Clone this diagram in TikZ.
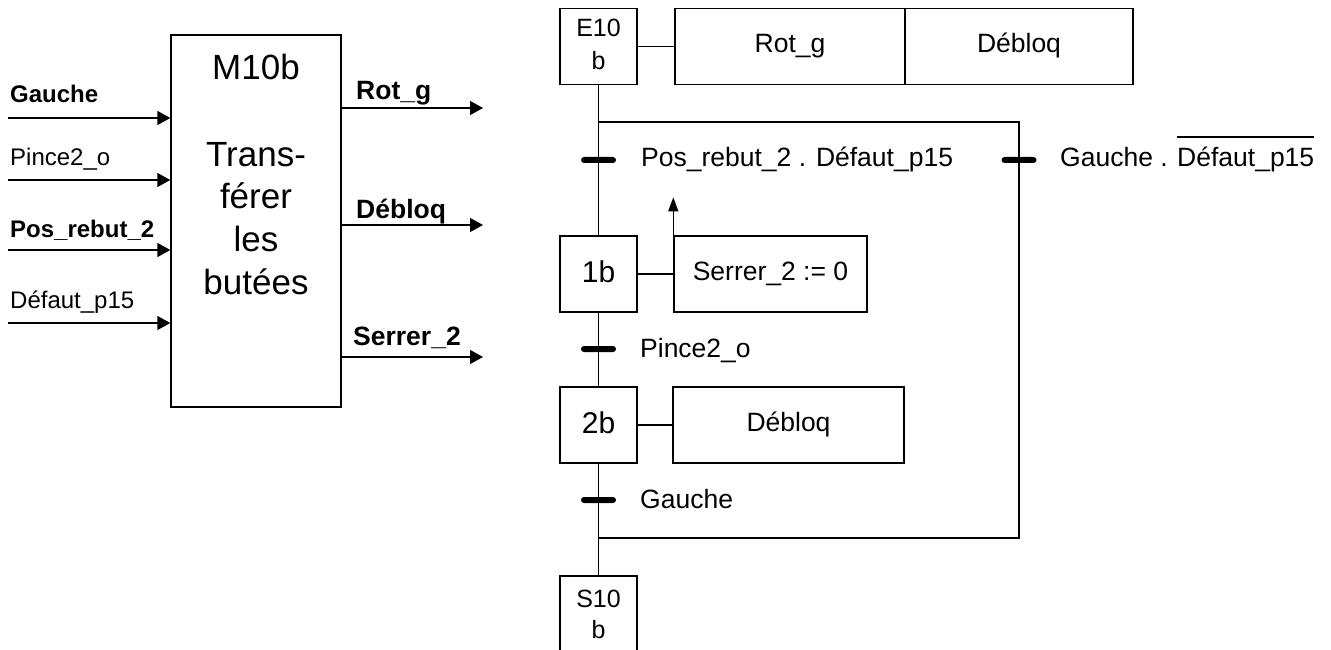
\documentclass[tikz,border=0pt]{standalone}
\usepackage{fontspec}
\setmainfont{Liberation Sans}
\usetikzlibrary{arrows.meta,calc}
\begin{document}
\begin{tikzpicture}[x=1pt,y=-1pt,
  ln/.style={line width=1.4pt},
  arr/.style={ln,-{Triangle[length=13pt,width=14pt]}},
  lbl/.style={anchor=base west,inner sep=0,font=\fontsize{24}{28}\selectfont},
  blbl/.style={anchor=base west,inner sep=0,font=\fontsize{24}{28}\selectfont\bfseries},
  olbl/.style={anchor=base west,inner sep=0,font=\fontsize{26.5}{30}\selectfont\bfseries},
  mtxt/.style={anchor=base,inner sep=0,font=\fontsize{35}{40}\selectfont},
  gl/.style={anchor=base west,inner sep=0,font=\fontsize{26.5}{30}\selectfont},
  stxt/.style={anchor=base,inner sep=0,font=\fontsize{25}{30}\selectfont},
  stepbox/.style={draw,ln,minimum width=77pt,minimum height=76pt,inner sep=0,text height=22pt,text depth=6pt,font=\fontsize{30}{34}\selectfont},
  actbox/.style={draw,ln,minimum height=76pt,inner sep=0,text height=19.5pt,text depth=6.5pt,font=\fontsize{26.5}{30}\selectfont},
  trans/.style={fill=black,minimum width=35pt,minimum height=6pt,inner sep=0,rounded corners=3pt}
]
\useasboundingbox (0,0) rectangle (1331,650);
\clip (0,0) rectangle (1331,650);

% ---- M10b block ----
\node[draw,ln,minimum width=170pt,minimum height=372pt,inner sep=0] (M) at (256,221) {};
\node[mtxt] (Mt) at (256,80) {M10b};
\node[mtxt] (M1) at (256,167) {Trans-};
\node[mtxt] (M2) at (256,208) {férer};
\node[mtxt] (M3) at (256,251) {les};
\node[mtxt] (M4) at (256,294) {butées};

% inputs
\coordinate (ia) at (8,118);
\coordinate (ib) at (8,180);
\coordinate (ic) at (8,250);
\coordinate (id) at (8,323);
\draw[arr] (ia) -- (ia -| M.west);
\draw[arr] (ib) -- (ib -| M.west);
\draw[arr] (ic) -- (ic -| M.west);
\draw[arr] (id) -- (id -| M.west);
\node[blbl] (lG) at (10,103) {Gauche};
\node[lbl] (lP) at (10,165) {Pince2\_o};
\node[blbl] (lR) at (10,237) {Pos\_rebut\_2};
\node[lbl] (lD) at (10,308) {Défaut\_p15};

% outputs
\coordinate (oa) at (483,108);
\coordinate (ob) at (483,225);
\coordinate (oc) at (483,357);
\draw[arr] (M.east |- oa) -- (oa);
\draw[arr] (M.east |- ob) -- (ob);
\draw[arr] (M.east |- oc) -- (oc);
\node[olbl] (lRot) at (356,100) {Rot\_g};
\node[olbl] (lDeb) at (356,218) {Débloq};
\node[olbl] (lSer) at (353,345) {Serrer\_2};

% ---- Grafcet ----
\node[stepbox] (E10) at (598.5,46.5) {};
\node[stxt] (E10a) at (598.5,37) {E10};
\node[stxt] (E10b) at (598.5,70) {b};
\node[actbox,minimum width=230pt] (A1) at (790,46.5) {Rot\_g};
\node[actbox,minimum width=228pt] (A2) at (1019,46.5) {Débloq};
\draw[ln] (E10) -- (A1);

\node[stepbox] (S1) at (598.5,274) {1b};
\node[actbox,minimum width=193pt] (A3) at (770.5,274) {Serrer\_2 := 0};
\node[stepbox] (S2) at (598.5,425) {2b};
\node[actbox,minimum width=231pt] (A4) at (788.5,425) {Débloq};
\node[stepbox] (S10) at (598.5,614) {};
\node[stxt] (S10a) at (598.5,607) {S10};
\node[stxt] (S10b) at (598.5,638) {b};

\coordinate (dA) at (598.5,122);
\coordinate (dB) at (1019,122);
\coordinate (dC) at (1019,538);
\coordinate (dD) at (598.5,538);

\draw[ln] (E10) -- (S1);
\draw[ln] (S1) -- (S2);
\draw[ln] (S2) -- (S10);
\draw[ln] (dA) -- (dB) -- (dC) -- (dD);
\draw[ln] (S1) -- (A3);
\draw[ln] (S2) -- (A4);
\coordinate (up) at ($(A3.north west)+(0,-38)$);
\draw[ln,-{Triangle[length=14pt,width=10pt]}] (A3.north west) -- (up);

\node[trans] (t1) at (598.5,160) {};
\node[trans] (t2) at (1019,160) {};
\node[trans] (t3) at (598.5,349) {};
\node[trans] (t4) at (598.5,500) {};

\node[gl] (c1) at (641,167) {Pos\_rebut\_2 . Défaut\_p15};
\node[gl] (c2) at (1060,167) {Gauche .};
\node[gl] (c2b) at (1177,167) {Défaut\_p15};
\draw[line width=1.2pt] ($(c2b.base west)+(0,-30)$) -- ($(c2b.base east)+(0,-30)$);
\node[gl] (c3) at (640,357) {Pince2\_o};
\node[gl] (c4) at (640,508) {Gauche};
\end{tikzpicture}
\end{document}
